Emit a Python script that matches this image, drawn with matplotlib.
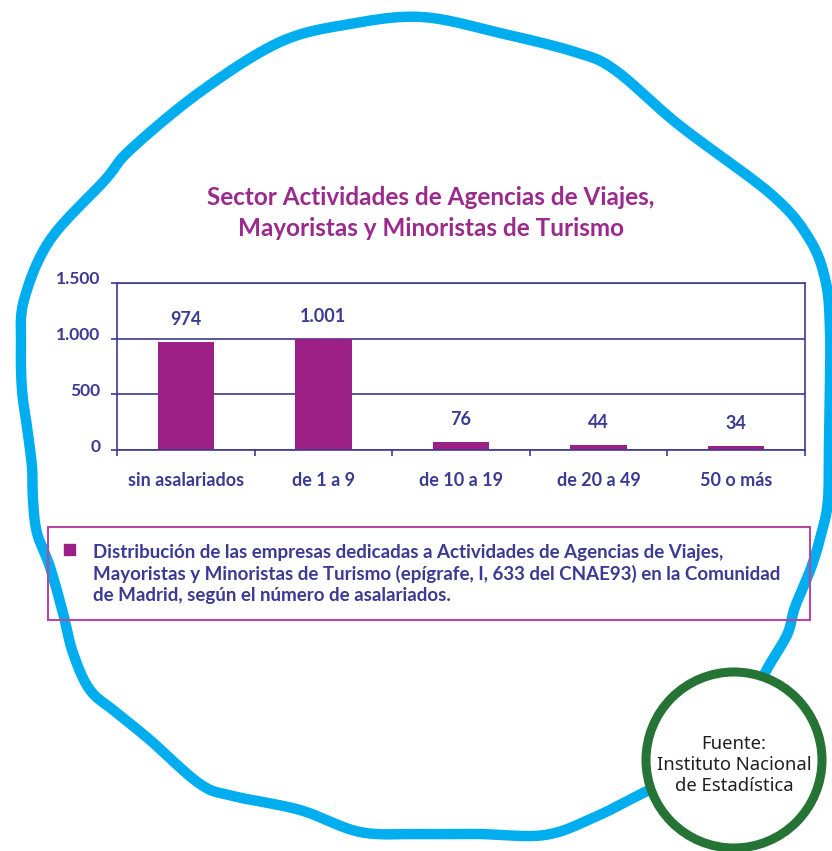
import numpy as np
import matplotlib.pyplot as plt
from matplotlib.patches import Circle, Rectangle
import matplotlib.transforms as mtransforms

# chart data
categories = ['sin asalariados', 'de 1 a 9', 'de 10 a 19', 'de 20 a 49', '50 o más']
empresas = [974, 1001, 76, 44, 34]
value_labels = ['974', '1.001', '76', '44', '34']
yticks = [0, 500, 1000, 1500]
ytick_labels = ['0', '500', '1.000', '1.500']

title = 'Sector Actividades de Agencias de Viajes,\nMayoristas y Minoristas de Turismo'
legend_text = ('Distribución de las empresas dedicadas a Actividades de Agencias de Viajes,\n'
               'Mayoristas y Minoristas de Turismo (epígrafe, I, 633 del CNAE93) en la Comunidad\n'
               'de Madrid, según el número de asalariados.')
source_text = 'Fuente:\nInstituto Nacional\nde Estadística'

BAR = '#9b1f84'
INDIGO = '#3c3a92'
TITLE_C = '#9a2a8c'
BLUE = '#00aeef'
GREEN = '#267336'

W, H = 832, 851
fig = plt.figure(figsize=(W / 100, H / 100), dpi=100)

# decoration layer in pixel coords
deco = fig.add_axes([0, 0, 1, 1])
deco.set_xlim(0, W)
deco.set_ylim(H, 0)
deco.axis('off')


def catmull_rom(pts, n=20):
    pts = np.asarray(pts, float)
    out = []
    m = len(pts)
    for i in range(m):
        p0, p1, p2, p3 = pts[i - 1], pts[i], pts[(i + 1) % m], pts[(i + 2) % m]
        for t in np.linspace(0, 1, n, endpoint=False):
            t2, t3 = t * t, t * t * t
            out.append(0.5 * ((2 * p1) + (-p0 + p2) * t + (2 * p0 - 5 * p1 + 4 * p2 - p3) * t2
                              + (-p0 + 3 * p1 - 3 * p2 + p3) * t3))
    out.append(out[0])
    return np.array(out)


blob = [(700, 765), (645, 792), (595, 817), (545, 835), (480, 834), (420, 834), (360, 832),
        (300, 810), (233, 796), (200, 784), (150, 740), (117, 713), (90, 690), (73, 653),
        (63, 613), (50, 567), (37, 533), (33, 500), (32, 467), (27, 427), (22, 390),
        (21, 345), (24, 300), (50, 240), (105, 180), (130, 150), (200, 92), (280, 42),
        (350, 24), (422, 17), (500, 33), (575, 52), (615, 70), (679, 125), (772, 195),
        (810, 240), (826, 283), (830, 330), (830, 380), (829, 440), (828, 500), (821, 535),
        (811, 568), (795, 607), (787, 635), (765, 673), (745, 720)]
path = catmull_rom(blob)
deco.plot(path[:, 0], path[:, 1], color=BLUE, lw=7.5, solid_capstyle='round', zorder=1)

# legend box
deco.add_patch(Rectangle((48, 527), 762, 93, fill=False, ec='#b5489f', lw=1.5, zorder=2))
deco.add_patch(Rectangle((64, 544), 11, 11, color=BAR, zorder=2))
deco.text(93, 574, legend_text, color=INDIGO, fontsize=13.5, family='Lato', weight='bold',
          va='center', ha='left', linespacing=1.28, zorder=3)

# title
deco.text(431, 213, title, color=TITLE_C, fontsize=17.5, family='Lato', weight='bold',
          ha='center', va='center', linespacing=1.45)

# source circle
deco.add_patch(Circle((734, 760), 88, fc='white', ec=GREEN, lw=6.5, zorder=4))
deco.text(734, 765, source_text, ha='center', va='center', fontsize=13.3, family='Noto Sans',
          color='#231f20', linespacing=1.2, zorder=5)

# bar chart
ax = fig.add_axes([117 / W, 1 - 450 / H, 688 / W, (450 - 283) / H])
x = np.arange(len(categories))
bars = ax.bar(x, empresas, width=0.41, color=BAR, zorder=2)
ax.set_xlim(-0.5, len(categories) - 0.5)
ax.set_ylim(0, 1500)
ax.set_yticks(yticks)
ax.set_yticklabels(ytick_labels)
ax.yaxis.grid(True, color=INDIGO, lw=1.2)
ax.set_axisbelow(True)
for s in ax.spines.values():
    s.set_color(INDIGO)
    s.set_linewidth(1.2)
ax.set_xticks(x)
ax.set_xticklabels(categories)
ax.set_xticks(np.arange(len(categories) + 1) - 0.5, minor=True)
ax.tick_params(axis='x', which='major', length=0, pad=16, labelsize=13, labelcolor=INDIGO)
ax.tick_params(axis='x', which='minor', length=4, direction='out', color=INDIGO, width=1.2)
ax.tick_params(axis='y', length=4, color=INDIGO, width=1.2, pad=8, labelsize=12.5,
               labelcolor=INDIGO)
for lab in ax.get_xticklabels() + ax.get_yticklabels():
    lab.set_family('Lato')
    lab.set_fontweight('bold')
off = mtransforms.ScaledTranslation(0, 5 / 100, fig.dpi_scale_trans)
for lab in ax.get_yticklabels():
    lab.set_transform(lab.get_transform() + off)

for b, txt in zip(bars, value_labels):
    ax.annotate(txt, (b.get_x() + b.get_width() / 2, b.get_height()), xytext=(0, 10),
                textcoords='offset points', ha='center', va='bottom', color=INDIGO,
                fontsize=13, family='Lato', weight='bold')

fig.savefig('out.png', dpi=100)
